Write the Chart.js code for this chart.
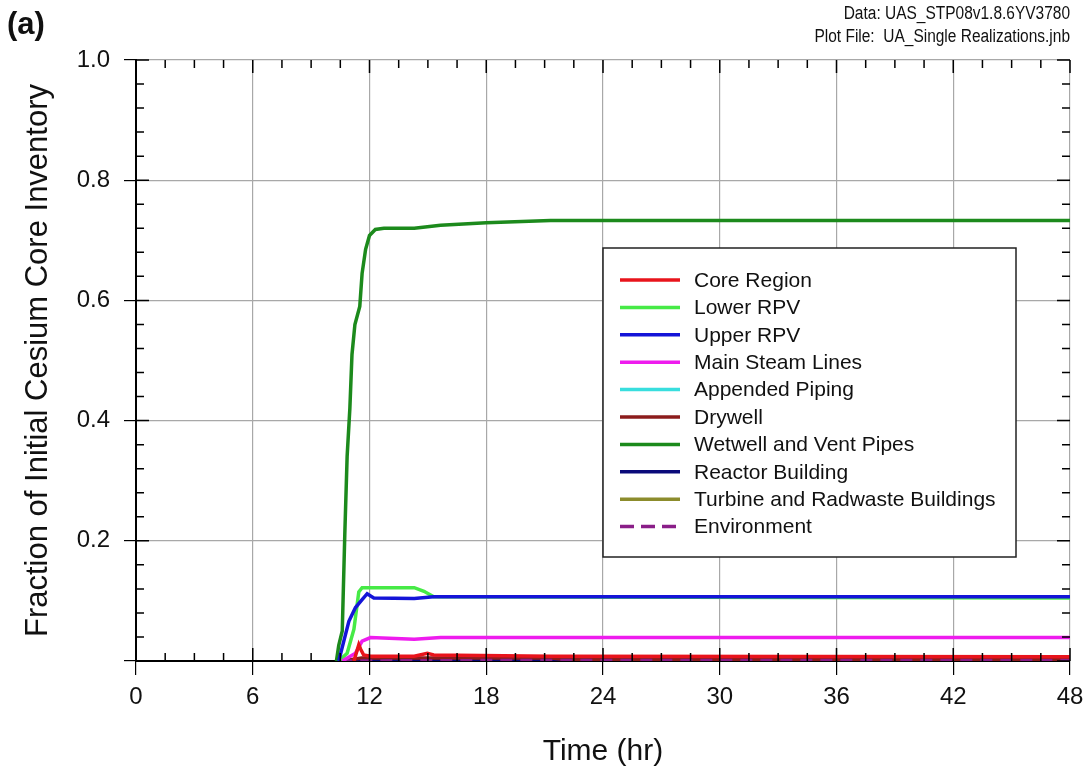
<!DOCTYPE html>
<html>
<head>
<meta charset="utf-8">
<script src="https://cdn.jsdelivr.net/npm/chart.js@4/dist/chart.umd.min.js"></script>
<style>
  html, body { margin: 0; padding: 0; background: #fff; }
  #wrap { width: 1088px; height: 778px; }
</style>
</head>
<body>
<div id="wrap"><canvas id="chart" width="1088" height="778"></canvas></div>
<script>
// series as [hour, fraction] pairs
const seriesNames = [
  'Core Region', 'Lower RPV', 'Upper RPV', 'Main Steam Lines', 'Appended Piping',
  'Drywell', 'Wetwell and Vent Pipes', 'Reactor Building', 'Turbine and Radwaste Buildings', 'Environment',
];
const seriesColors = [
  '#e8141c', '#46ea46', '#1414d8', '#ee1cee', '#38dede',
  '#8c1c1c', '#1c8a1c', '#0a0a7a', '#8c8c2c', '#8a1e88',
];
// drawing order (higher = further back)
const seriesOrder = [0, 2, 1, 1, 5, 3, 1, 4, 5, 2];

const coreRegion = [[11.2, 0], [11.45, 0.027], [11.54, 0.02], [11.7, 0.01], [12.05, 0.008], [14.3, 0.008],
  [14.97, 0.013], [15.3, 0.01], [21.3, 0.008], [48, 0.007]];
const lowerRpv = [[10.42, 0], [10.85, 0.013], [11.2, 0.053], [11.45, 0.115], [11.62, 0.122], [14.3, 0.122],
  [14.8, 0.116], [15.3, 0.107], [48, 0.105]];
const upperRpv = [[10.42, 0], [10.68, 0.033], [10.94, 0.066], [11.28, 0.089], [11.62, 0.102], [11.88, 0.112],
  [12.22, 0.105], [14.3, 0.104], [15.3, 0.107], [48, 0.107]];
const mainSteamLines = [[10.6, 0], [11.28, 0.013], [11.62, 0.033], [12.05, 0.039], [14.3, 0.036],
  [15.65, 0.039], [48, 0.039]];
const appendedPiping = [[10.6, 0], [11.5, 0.002], [48, 0.002]];
const drywell = [[10.6, 0], [11.6, 0.005], [21.3, 0.005], [22, 0.003], [48, 0.003]];
const wetwell = [[10.3, 0], [10.42, 0.026], [10.6, 0.05], [10.73, 0.21], [10.85, 0.34], [10.99, 0.42],
  [11.1, 0.51], [11.25, 0.56], [11.5, 0.59], [11.62, 0.645], [11.8, 0.685], [12.0, 0.708], [12.3, 0.718],
  [12.74, 0.72], [14.3, 0.72], [15.65, 0.725], [18, 0.729], [21.3, 0.733], [48, 0.733]];
const reactorBuilding = [[11, 0], [12, 0.001], [48, 0.001]];
const turbineBuildings = [[11, 0], [12, 0.001], [48, 0.001]];
const environment = [[10.5, 0], [22, 0.001], [48, 0.001]];

const allSeries = [coreRegion, lowerRpv, upperRpv, mainSteamLines, appendedPiping,
  drywell, wetwell, reactorBuilding, turbineBuildings, environment];

const xTicks = [0, 6, 12, 18, 24, 30, 36, 42, 48];
const yTicks = [0, 0.2, 0.4, 0.6, 0.8, 1.0];

const FONT = '"Liberation Sans", Arial, sans-serif';

const datasets = allSeries.map((pts, i) => ({
  label: seriesNames[i],
  data: pts.map(([x, y]) => ({ x, y })),
  borderColor: seriesColors[i],
  borderWidth: 3.5,
  borderDash: i === 9 ? [12, 8] : [],
  order: seriesOrder[i],
  pointRadius: 0,
  tension: 0,
  fill: false,
}));

// minor/inward ticks, legend box and header texts
const decorations = {
  id: 'decorations',
  afterDatasetsDraw(chart) {
    const { ctx, chartArea: a, scales: { x, y } } = chart;
    ctx.save();
    ctx.strokeStyle = '#000';
    ctx.lineWidth = 1.5;
    ctx.beginPath();
    for (let h = 0; h <= 48.001; h += 1.5) {
      const px = x.getPixelForValue(h);
      const len = (h % 6 === 0) ? 13 : 8;
      ctx.moveTo(px, a.bottom); ctx.lineTo(px, a.bottom - len);
      ctx.moveTo(px, a.top); ctx.lineTo(px, a.top + len);
    }
    for (let k = 0; k <= 25; k++) {
      const v = k * 0.04;
      const py = y.getPixelForValue(v);
      const len = (k % 5 === 0) ? 13 : 8;
      ctx.moveTo(a.left, py); ctx.lineTo(a.left + len, py);
      ctx.moveTo(a.right, py); ctx.lineTo(a.right - len, py);
    }
    ctx.stroke();

    // legend, in the original series order
    const bx = 603, by = 248, bw = 413, bh = 309;
    ctx.fillStyle = '#fff';
    ctx.fillRect(bx, by, bw, bh);
    ctx.lineWidth = 1.5;
    ctx.strokeStyle = '#222';
    ctx.strokeRect(bx, by, bw, bh);
    ctx.font = '21px ' + FONT;
    ctx.textBaseline = 'middle';
    ctx.textAlign = 'left';
    chart.data.datasets.forEach((ds, i) => {
      const ry = 280 + i * 27.4;
      ctx.strokeStyle = ds.borderColor;
      ctx.lineWidth = 3.5;
      ctx.setLineDash(ds.borderDash.length ? [14, 7] : []);
      ctx.beginPath();
      ctx.moveTo(620, ry); ctx.lineTo(680, ry);
      ctx.stroke();
      ctx.setLineDash([]);
      ctx.fillStyle = '#111';
      ctx.fillText(ds.label, 694, ry + 1);
    });

    // headers (narrowed)
    ctx.fillStyle = '#111';
    ctx.textAlign = 'right';
    ctx.font = '18px ' + FONT;
    ctx.save();
    ctx.translate(1070, 0);
    ctx.scale(0.86, 1);
    ctx.fillText('Data: UAS_STP08v1.8.6YV3780', 0, 14);
    ctx.fillText('Plot File:  UA_Single Realizations.jnb', 0, 37);
    ctx.restore();
    ctx.textAlign = 'left';
    ctx.font = 'bold 31px ' + FONT;
    ctx.fillText('(a)', 7, 25);
    ctx.restore();
  },
};

new Chart(document.getElementById('chart'), {
  type: 'line',
  data: { datasets },
  options: {
    responsive: false,
    animation: false,
    layout: { padding: { top: 60, right: 18, left: 0, bottom: 0 } },
    plugins: { legend: { display: false }, tooltip: { enabled: false } },
    scales: {
      x: {
        type: 'linear',
        min: 0,
        max: 48,
        afterBuildTicks: (scale) => { scale.ticks = xTicks.map((v) => ({ value: v })); },
        afterFit: (scale) => {
          scale.height = 117;
          scale.paddingLeft = 0;
          scale.paddingRight = 0;
        },
        ticks: { font: { size: 24, family: FONT }, color: '#111', padding: 8 },
        grid: { color: '#a8a8a8', lineWidth: 1.2, tickLength: 14, tickColor: '#000' },
        border: { color: '#000', width: 2 },
        title: {
          display: true,
          text: 'Time (hr)',
          font: { size: 30, family: FONT },
          color: '#111',
          padding: { top: 0, bottom: 8 },
        },
      },
      y: {
        min: 0,
        max: 1,
        afterBuildTicks: (scale) => { scale.ticks = yTicks.map((v) => ({ value: v })); },
        afterFit: (scale) => { scale.width = 136; },
        ticks: {
          font: { size: 24, family: FONT },
          color: '#111',
          padding: 14,
          callback: (v) => (v === 0 ? '' : v.toFixed(1)),
        },
        grid: { color: '#a8a8a8', lineWidth: 1.2, tickLength: 12, tickColor: '#000' },
        border: { color: '#000', width: 2 },
        title: {
          display: true,
          text: 'Fraction of Initial Cesium Core Inventory',
          font: { size: 31, family: FONT },
          color: '#111',
          padding: { top: 20, bottom: 0 },
        },
      },
    },
  },
  plugins: [decorations],
});
</script>
</body>
</html>
